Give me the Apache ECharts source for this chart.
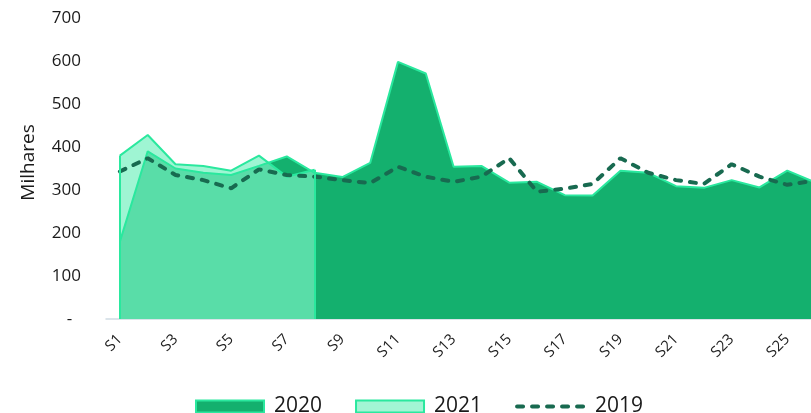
<!DOCTYPE html>
<html>
<head>
<meta charset="utf-8">
<script src="https://cdn.jsdelivr.net/npm/echarts@6/dist/echarts.min.js"></script>
<style>
  html, body { margin: 0; padding: 0; background: #fff; }
  #chart { width: 811px; height: 413px; }
</style>
</head>
<body>
<div id="chart"></div>
<script>
const weeks = ["S1","S2","S3","S4","S5","S6","S7","S8","S9","S10","S11","S12","S13",
  "S14","S15","S16","S17","S18","S19","S20","S21","S22","S23","S24","S25","S26"];
const v2020 = [180, 390, 350, 340, 335, 356, 378, 340, 330, 363, 598, 571, 354,
  356, 317, 319, 288, 287, 345, 340, 309, 305, 323, 306, 345, 318];
const v2021 = [380, 428, 360, 356, 345, 380, 331, 347];
const v2019 = [343, 374, 335, 323, 304, 348, 335, 331, 323, 316, 354, 331, 319,
  331, 374, 296, 303, 314, 374, 340, 323, 314, 360, 331, 312, 322];

const bright = "#2ae89e";
const dark = "#14b06e";
const mint = "rgba(118,241,193,0.7)";
const dash = "#186a50";
const font = "Open Sans";
const dashStyle = { color: dash, width: 4, type: [6, 9], cap: "round" };

const chart = echarts.init(document.getElementById("chart"));
chart.setOption({
  animation: false,
  textStyle: { fontFamily: font },
  grid: { left: 106, top: 18, width: 723, height: 301, containLabel: false, outerBoundsMode: "none" },
  legend: {
    left: 190,
    top: 391,
    itemWidth: 68,
    itemHeight: 12,
    itemGap: 33,
    textStyle: { fontSize: 21, color: "#1a1a1a", fontFamily: font, padding: [0, 0, 0, 5] },
    data: [
      { name: "2020", icon: "rect", itemStyle: { color: dark, borderColor: bright, borderWidth: 2 } },
      { name: "2021", icon: "rect", itemStyle: { color: "#a2f5d4", borderColor: bright, borderWidth: 2 } },
      { name: "2019", itemStyle: { color: "transparent", opacity: 0, borderWidth: 0 }, lineStyle: dashStyle }
    ]
  },
  xAxis: {
    type: "category",
    data: weeks,
    boundaryGap: true,
    axisLine: { lineStyle: { color: "#cfdbe4", width: 1.5 } },
    axisTick: { interval: 0, length: 5, lineStyle: { color: "#c8d5df", width: 1.5 } },
    axisLabel: { interval: 1, rotate: 45, margin: 18, fontSize: 15, color: "#222", fontFamily: font }
  },
  yAxis: {
    type: "value",
    min: 0,
    max: 700,
    interval: 100,
    name: "Milhares",
    nameLocation: "middle",
    nameGap: 68,
    nameTextStyle: { fontSize: 19, color: "#1a1a1a", fontFamily: font, padding: [0, 0, 0, 12] },
    splitLine: { show: false },
    axisLine: { show: false },
    axisTick: { show: false },
    axisLabel: {
      margin: 25,
      fontSize: 17,
      color: "#1a1a1a",
      fontFamily: font,
      formatter: (v) => (v === 0 ? "-  " : String(v))
    }
  },
  series: [
    {
      name: "2020",
      type: "line",
      data: v2020,
      symbol: "none",
      lineStyle: { color: bright, width: 2 },
      itemStyle: { color: dark },
      areaStyle: { color: dark, opacity: 1 }
    },
    {
      name: "2021",
      type: "line",
      data: v2021,
      symbol: "none",
      lineStyle: { color: bright, width: 2 },
      itemStyle: { color: "#a2f5d4" },
      areaStyle: { color: mint, opacity: 1 },
      markLine: {
        silent: true,
        symbol: "none",
        label: { show: false },
        lineStyle: { color: bright, width: 2, type: "solid" },
        data: [
          [{ coord: [weeks[0], 0] }, { coord: [weeks[0], v2021[0]] }],
          [{ coord: [weeks[v2021.length - 1], 0] }, { coord: [weeks[v2021.length - 1], v2021[v2021.length - 1]] }]
        ]
      }
    },
    {
      name: "2019",
      type: "line",
      data: v2019,
      symbol: "none",
      itemStyle: { color: dash },
      lineStyle: dashStyle
    }
  ]
});
</script>
</body>
</html>
